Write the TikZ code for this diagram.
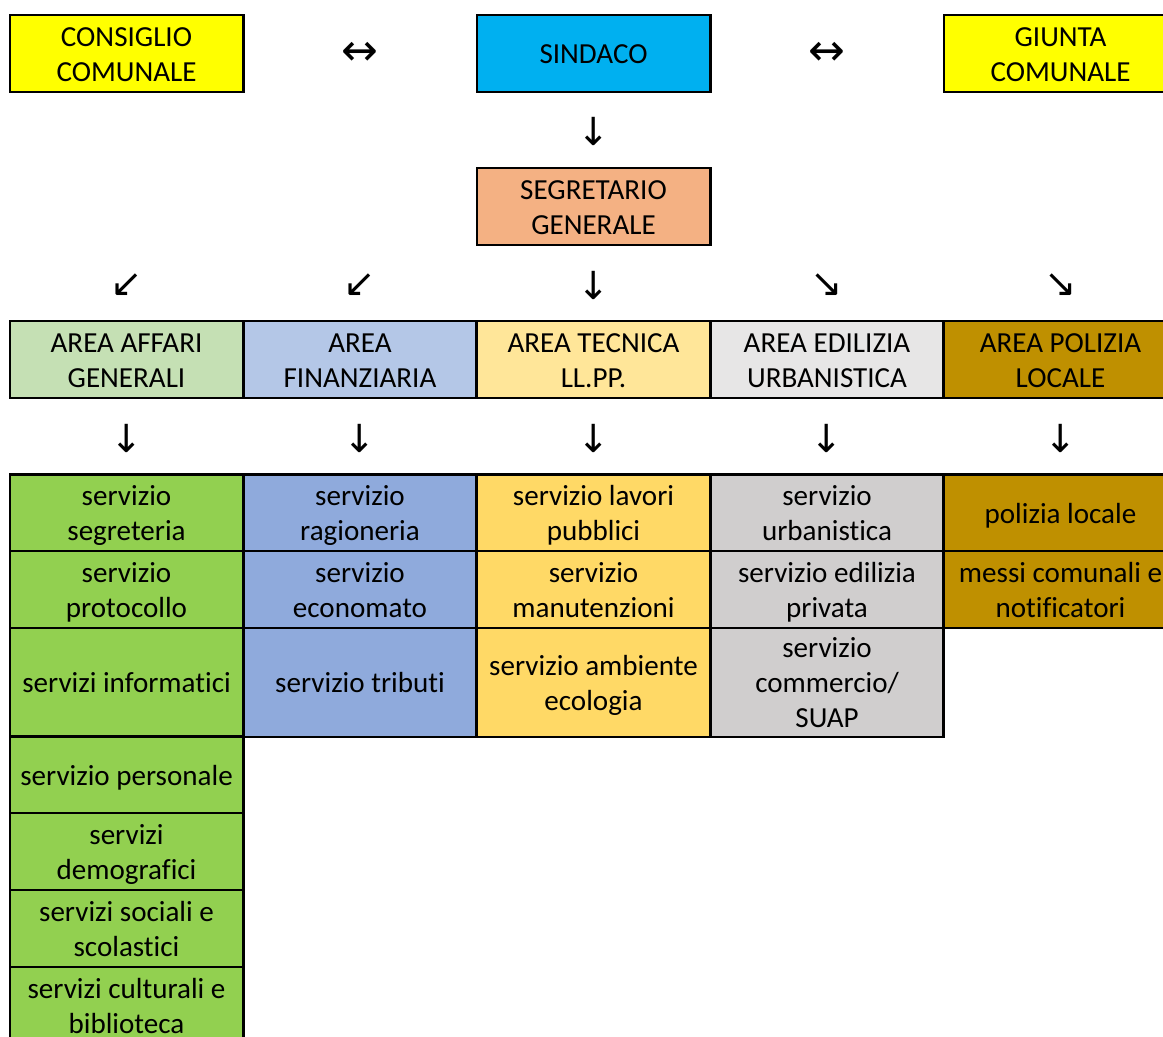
\documentclass[tikz,border=0pt]{standalone}
\usepackage{fontspec}
\setmainfont{Carlito}[Ligatures={NoCommon}]
\newfontfamily\arrowfont{DejaVu Sans}
\definecolor{cyell}{HTML}{FFFF00}
\definecolor{csind}{HTML}{00B0F0}
\definecolor{cseg}{HTML}{F4B183}
\definecolor{agreen}{HTML}{C5E0B4}
\definecolor{ablue}{HTML}{B4C7E7}
\definecolor{ayell}{HTML}{FFE699}
\definecolor{agray}{HTML}{E7E6E6}
\definecolor{cgold}{HTML}{BF9000}
\definecolor{sgreen}{HTML}{92D050}
\definecolor{sblue}{HTML}{8FAADC}
\definecolor{syell}{HTML}{FFD966}
\definecolor{sgray}{HTML}{D0CECE}
\newcommand\sr{\vrule width 0pt height 0.95em depth 0.25em\relax}
\tikzset{
  cell/.style={draw=black, line width=1.9pt, rectangle, inner sep=0pt, align=center,
    minimum width=175.1pt, font=\fontsize{21.8}{26.3}\selectfont},
  hstd/.style={minimum height=57.5pt},
  htall/.style={minimum height=81.75pt},
  arrowtxt/.style={inner sep=0pt, font=\arrowfont\fontsize{29}{30}\selectfont},
  arrowwide/.style={inner sep=0pt, font=\arrowfont\fontsize{33}{34}\selectfont}
}
\begin{document}
\begin{tikzpicture}[x=0.75pt,y=-0.75pt]
\useasboundingbox (0,0) rectangle (1163,1037);
\clip (0,0) rectangle (1163,1037);
% top row
\node[cell,hstd,fill=cyell] (consiglio) at (126.5,53.5) {\sr CONSIGLIO\\\sr COMUNALE};
\node[cell,hstd,fill=csind] (sindaco) at (593.5,53.5) {\sr SINDACO};
\node[cell,hstd,fill=cyell] (giunta) at (1060.5,53.5) {\sr GIUNTA\\\sr COMUNALE};
\node[arrowwide] (ar1) at (360,54) {↔};
\node[arrowwide] (ar2) at (827,54) {↔};
\node[arrowtxt] (ar3) at (593.5,131) {↓};
\node[cell,hstd,fill=cseg] (segr) at (593.5,206.5) {\sr SEGRETARIO\\\sr GENERALE};
\node[arrowtxt] (ar4) at (126.5,285) {↙};
\node[arrowtxt] (ar5) at (360,285) {↙};
\node[arrowtxt] (ar6) at (593.5,285) {↓};
\node[arrowtxt] (ar7) at (827,285) {↘};
\node[arrowtxt] (ar8) at (1060.5,285) {↘};
% areas
\node[cell,hstd,fill=agreen] (aaff) at (126.5,359.5) {\sr AREA AFFARI\\\sr GENERALI};
\node[cell,hstd,fill=ablue] (afin) at (360,359.5) {\sr AREA\\\sr FINANZIARIA};
\node[cell,hstd,fill=ayell] (atec) at (593.5,359.5) {\sr AREA TECNICA\\\sr LL.PP.};
\node[cell,hstd,fill=agray] (aedi) at (827,359.5) {\sr AREA EDILIZIA\\\sr URBANISTICA};
\node[cell,hstd,fill=cgold] (apol) at (1060.5,359.5) {\sr AREA POLIZIA\\\sr LOCALE};
\node[arrowtxt] (ad1) at (126.5,438) {↓};
\node[arrowtxt] (ad2) at (360,438) {↓};
\node[arrowtxt] (ad3) at (593.5,438) {↓};
\node[arrowtxt] (ad4) at (827,438) {↓};
\node[arrowtxt] (ad5) at (1060.5,438) {↓};
% services col 1
\node[cell,hstd,fill=sgreen] (s11) at (126.5,513) {\sr servizio\\\sr segreteria};
\node[cell,hstd,fill=sgreen] (s12) at (126.5,589.5) {\sr servizio\\\sr protocollo};
\node[cell,htall,fill=sgreen] (s13) at (126.5,682.5) {\sr servizi informatici};
\node[cell,hstd,fill=sgreen] (s14) at (126.5,775) {\sr servizio personale};
\node[cell,hstd,fill=sgreen] (s15) at (126.5,851.5) {\sr servizi\\\sr demografici};
\node[cell,hstd,fill=sgreen] (s16) at (126.5,928.5) {\sr servizi sociali e\\\sr scolastici};
\node[cell,hstd,fill=sgreen] (s17) at (126.5,1005.5) {\sr servizi culturali e\\\sr biblioteca};
% col 2
\node[cell,hstd,fill=sblue] (s21) at (360,513) {\sr servizio\\\sr ragioneria};
\node[cell,hstd,fill=sblue] (s22) at (360,589.5) {\sr servizio\\\sr economato};
\node[cell,htall,fill=sblue] (s23) at (360,682.5) {\sr servizio tributi};
% col 3
\node[cell,hstd,fill=syell] (s31) at (593.5,513) {\sr servizio lavori\\\sr pubblici};
\node[cell,hstd,fill=syell] (s32) at (593.5,589.5) {\sr servizio\\\sr manutenzioni};
\node[cell,htall,fill=syell] (s33) at (593.5,682.5) {\sr servizio ambiente\\\sr ecologia};
% col 4
\node[cell,hstd,fill=sgray] (s41) at (827,513) {\sr servizio\\\sr urbanistica};
\node[cell,hstd,fill=sgray] (s42) at (827,589.5) {\sr servizio edilizia\\\sr privata};
\node[cell,htall,fill=sgray] (s43) at (827,682.5) {\sr servizio\\\sr commercio/\\\sr SUAP};
% col 5
\node[cell,hstd,fill=cgold] (s51) at (1060.5,513) {\sr polizia locale};
\node[cell,hstd,fill=cgold] (s52) at (1060.5,589.5) {\sr messi comunali e\\\sr notificatori};
\end{tikzpicture}
\end{document}
